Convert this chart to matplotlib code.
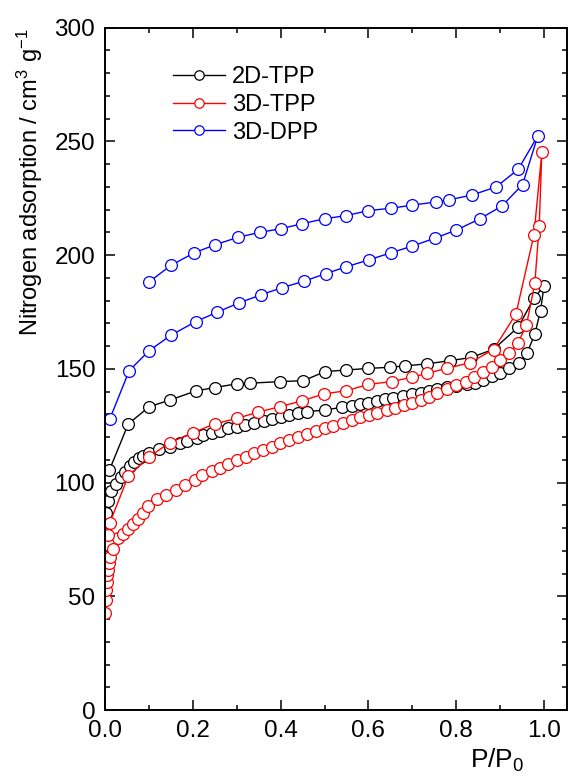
import numpy as np
import matplotlib
matplotlib.use('Agg')
import matplotlib.pyplot as plt
from matplotlib.ticker import MultipleLocator

plt.rcParams['font.family'] = ['Liberation Sans', 'DejaVu Sans']
plt.rcParams['mathtext.default'] = 'regular'

# 2D-TPP
tpp2d_ads_x = [0.003, 0.006, 0.013, 0.024, 0.036, 0.046, 0.057, 0.067, 0.078, 0.087,
               0.101, 0.124, 0.148, 0.171, 0.187, 0.209, 0.224, 0.243, 0.262, 0.281,
               0.30, 0.319, 0.339, 0.361, 0.38, 0.40, 0.42, 0.44, 0.461, 0.501,
               0.539, 0.562, 0.581, 0.60, 0.619, 0.638, 0.657, 0.678, 0.699, 0.719,
               0.739, 0.757, 0.778, 0.80, 0.824, 0.843, 0.862, 0.881, 0.90, 0.921,
               0.944, 0.961, 0.979, 0.992, 1.0]
tpp2d_ads_y = [86.5, 92, 96.5, 99.5, 102.3, 104.8, 107.3, 109.2, 110.7, 111.8,
               112.9, 114.6, 115.8, 117.2, 118.4, 119.5, 120.9, 121.6, 122.8, 123.8,
               124.6, 125.3, 126, 127.1, 127.8, 128.7, 129.6, 130.5, 131.2, 131.9,
               133.1, 133.7, 134.6, 135.1, 136, 136.6, 137.3, 138.1, 139, 139.5,
               140.4, 141, 142.2, 142.6, 143.4, 143.7, 145.1, 146.9, 148.3, 150.2,
               152.4, 156.8, 165.3, 175.6, 186.5]
tpp2d_des_x = [0.977, 0.941, 0.885, 0.834, 0.786, 0.733, 0.683, 0.649, 0.60, 0.55,
               0.501, 0.452, 0.399, 0.33, 0.30, 0.25, 0.207, 0.148, 0.101, 0.053, 0.01]
tpp2d_des_y = [181, 168.3, 158.6, 155, 153.6, 152.2, 151.3, 150.7, 150.2, 149.5,
               148.8, 144.8, 144.4, 143.7, 143.4, 141.8, 140.3, 136.3, 133.4, 125.8, 105.5]

# 3D-TPP
tpp3d_ads_x = [0.001, 0.002, 0.003, 0.004, 0.005, 0.006, 0.008, 0.012, 0.019, 0.03,
               0.042, 0.053, 0.064, 0.076, 0.087, 0.099, 0.119, 0.14, 0.162, 0.182,
               0.205, 0.222, 0.243, 0.262, 0.281, 0.30, 0.321, 0.339, 0.359, 0.38,
               0.399, 0.42, 0.44, 0.459, 0.481, 0.501, 0.52, 0.541, 0.562, 0.581,
               0.602, 0.62, 0.642, 0.661, 0.68, 0.699, 0.719, 0.739, 0.757, 0.778,
               0.80, 0.822, 0.841, 0.86, 0.881, 0.90, 0.921, 0.941, 0.96, 0.979,
               0.989, 0.995]
tpp3d_ads_y = [42.5, 48.4, 52.8, 56.4, 59.4, 61.6, 64.5, 67.5, 70.8, 75.5,
               77.6, 79.8, 82, 84.2, 86.8, 89.7, 92.6, 94.5, 96.7, 98.9,
               101.1, 103.3, 105.1, 106.3, 108.2, 109.9, 111.4, 112.9, 114.3, 115.8,
               117.2, 118.7, 120.1, 121.4, 122.8, 123.8, 124.9, 126, 127.5, 128.7,
               129.9, 130.8, 131.9, 132.9, 134.1, 135.1, 136.3, 137.6, 139.2, 141,
               142.9, 144.4, 146.3, 148.8, 151, 153.9, 156.8, 161.5, 169.3, 187.6,
               212.8, 245.2]
tpp3d_des_x = [0.977, 0.936, 0.885, 0.831, 0.778, 0.733, 0.699, 0.653, 0.60, 0.55,
               0.499, 0.448, 0.399, 0.349, 0.30, 0.25, 0.201, 0.148, 0.101, 0.053,
               0.011, 0.007]
tpp3d_des_y = [208.9, 174.1, 158.5, 152.7, 150.2, 148, 146.3, 144.4, 143.2, 140.4,
               139, 135.9, 133.4, 131, 128.2, 125.8, 122, 117.6, 111.4, 102.9,
               82.3, 77]

# 3D-DPP
dpp3d_ads_x = [0.011, 0.055, 0.10, 0.15, 0.207, 0.254, 0.305, 0.356, 0.403, 0.453,
               0.503, 0.55, 0.602, 0.651, 0.70, 0.752, 0.80, 0.854, 0.904, 0.951, 0.986]
dpp3d_ads_y = [128, 149.2, 157.9, 164.8, 170.8, 174.8, 179, 182.6, 185.7, 188.5,
               191.9, 194.9, 198, 201, 204, 207.5, 211, 216, 221.6, 231, 252.5]
dpp3d_des_x = [0.941, 0.891, 0.837, 0.784, 0.755, 0.70, 0.651, 0.60, 0.55, 0.50,
               0.449, 0.40, 0.352, 0.302, 0.25, 0.203, 0.151, 0.10]
dpp3d_des_y = [237.7, 230, 226.5, 224.3, 223.4, 222, 220.6, 219.6, 217.4, 216,
               213.8, 211.6, 210, 207.8, 204.5, 201, 195.6, 188.2]

series = [
    ('2D-TPP', 'black', tpp2d_ads_x + tpp2d_des_x, tpp2d_ads_y + tpp2d_des_y),
    ('3D-TPP', 'red', tpp3d_ads_x + tpp3d_des_x, tpp3d_ads_y + tpp3d_des_y),
    ('3D-DPP', 'blue', dpp3d_ads_x + dpp3d_des_x, dpp3d_ads_y + dpp3d_des_y),
]

fig = plt.figure(figsize=(5.68, 7.80), dpi=100)
ax = fig.add_axes([0.1849, 0.0897, 0.8131, 0.8748])

for name, col, xs, ys in series:
    ax.plot(xs, ys, '-o', color=col, lw=1.0, ms=8.5, mfc='white', mec=col,
            mew=0.9, label=name)

ax.set_xlim(0, 1.052)
ax.set_ylim(0, 300)
ax.xaxis.set_major_locator(MultipleLocator(0.2))
ax.xaxis.set_minor_locator(MultipleLocator(0.1))
ax.yaxis.set_major_locator(MultipleLocator(50))
ax.yaxis.set_minor_locator(MultipleLocator(10))
ax.xaxis.set_major_formatter(plt.FuncFormatter(lambda v, p: '%.1f' % v))

ax.tick_params(which='both', direction='in', top=True, right=True,
               labelsize=17.5, width=1.1)
ax.tick_params(which='major', length=7)
ax.tick_params(which='minor', length=3.5)
ax.tick_params(axis='x', pad=7)
ax.tick_params(axis='y', pad=7)
for s in ax.spines.values():
    s.set_linewidth(1.4)

ax.set_ylabel('Nitrogen adsorption / cm$^3$ g$^{-1}$', fontsize=17)
ax.yaxis.set_label_coords(-0.13, 0.774)
ax.set_xlabel('P/P$_0$', fontsize=19)
ax.xaxis.set_label_coords(0.85, -0.054)
ax.xaxis.label.set_va('top')

ax.legend(loc='upper left', bbox_to_anchor=(0.147, 0.944), frameon=False,
          fontsize=17, handlelength=2.2, handletextpad=0.3, labelspacing=0.25,
          borderpad=0, borderaxespad=0, markerscale=0.8)

plt.savefig('out.png', dpi=100)
